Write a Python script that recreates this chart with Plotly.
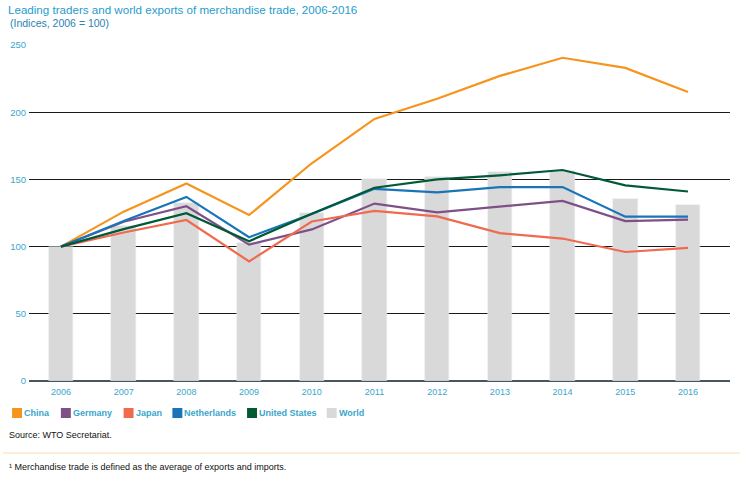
import plotly.graph_objects as go

years = [2006, 2007, 2008, 2009, 2010, 2011, 2012, 2013, 2014, 2015, 2016]

china = [100, 126, 147, 123.5, 162, 195, 210, 227, 240.5, 233, 215]
germany = [100, 118.5, 130, 101.5, 112.8, 132, 125.5, 129.7, 134, 119, 120]
japan = [100, 110.5, 119.8, 89, 118.7, 126.5, 122.5, 110, 106, 96, 99]
netherlands = [100, 119, 137, 107, 124.3, 143, 140.3, 144.3, 144.3, 122.3, 122.3]
united_states = [100, 113, 124.8, 104, 124.5, 143.8, 150, 153, 157, 145.6, 141]
world = [100, 115, 132.7, 103, 125.2, 150.3, 152, 155.5, 156.5, 135.4, 131]

names = ['China', 'Germany', 'Japan', 'Netherlands', 'United States', 'World']
colors = ['#f7941d', '#7f4f87', '#ef6a4f', '#1a75b8', '#005a36', '#d9d9d9']

blue_text = '#3aa6cc'

fig = go.Figure()

fig.add_trace(go.Bar(x=years, y=world, name='World', marker_color=colors[5],
                     width=0.39, showlegend=False))

series = [china, germany, japan, netherlands, united_states]
for name, values, color in zip(names[:5], series, colors[:5]):
    fig.add_trace(go.Scatter(x=years, y=values, mode='lines', name=name,
                             line=dict(color=color, width=2.2), showlegend=False))

# hand-made legend under the chart (squares + labels)
legend_x = [9, 58, 121, 170, 245, 325]
plot_left, plot_width, plot_bottom, plot_height = 26, 704, 381, 336


def px_x(p):
    return (p - plot_left) / plot_width


def px_y(p):
    return (plot_bottom - p) / plot_height


for name, color, lx in zip(names, colors, legend_x):
    fig.add_shape(type='rect', xref='paper', yref='paper',
                  x0=px_x(lx), x1=px_x(lx + 10), y0=px_y(418), y1=px_y(408),
                  fillcolor=color, line_width=0)
    fig.add_annotation(text='<b>' + name + '</b>', xref='paper', yref='paper',
                       x=px_x(lx + 10), y=px_y(413), xanchor='left', yanchor='middle',
                       showarrow=False, font=dict(size=9, color=blue_text))

fig.add_annotation(text='Source: WTO Secretariat.', xref='paper', yref='paper',
                   x=px_x(4), y=px_y(435), xanchor='left', yanchor='middle',
                   showarrow=False, font=dict(size=9, color='#111111'))
fig.add_shape(type='line', xref='paper', yref='paper', x0=px_x(0), x1=px_x(740),
              y0=px_y(453), y1=px_y(453), line=dict(color='#fcdcaa', width=1))
fig.add_annotation(text='¹ Merchandise trade is defined as the average of exports and imports.',
                   xref='paper', yref='paper', x=px_x(4), y=px_y(467),
                   xanchor='left', yanchor='middle', showarrow=False,
                   font=dict(size=9, color='#111111'))

fig.add_annotation(text='(Indices, 2006 = 100)', xref='paper', yref='paper',
                   x=px_x(5), y=px_y(23), xanchor='left', yanchor='middle',
                   showarrow=False, font=dict(size=10.5, color='#2a7fb8'))

fig.update_layout(
    title=dict(text='Leading traders and world exports of merchandise trade, 2006-2016',
               x=8 / 740, xanchor='left', y=1 - 10 / 478, yanchor='middle',
               font=dict(size=11.6, color='#1f9ccc')),
    width=740, height=478,
    margin=dict(l=26, r=10, t=45, b=97),
    plot_bgcolor='white', paper_bgcolor='white',
    font=dict(family='Liberation Sans, Arial, sans-serif'),
    xaxis=dict(range=[2005.49, 2016.67], tickvals=years, ticktext=[str(y) for y in years],
               showgrid=False, zeroline=False, ticks='', showline=False,
               ticklabelstandoff=4,
               tickfont=dict(size=9, color=blue_text)),
    yaxis=dict(range=[0, 250], tickvals=[0, 50, 100, 150, 200, 250],
               showgrid=True, gridcolor='#1a1a1a', gridwidth=1,
               zeroline=True, zerolinecolor='#4a5560', zerolinewidth=2,
               ticks='', ticklabelstandoff=2,
               tickfont=dict(size=9.5, color=blue_text)),
    bargap=0,
)

# the page's default body margin would push the chart 8px down and right
fig.write_html("out.html", config={'displayModeBar': False},
               post_script="document.body.style.margin = '0px';")
